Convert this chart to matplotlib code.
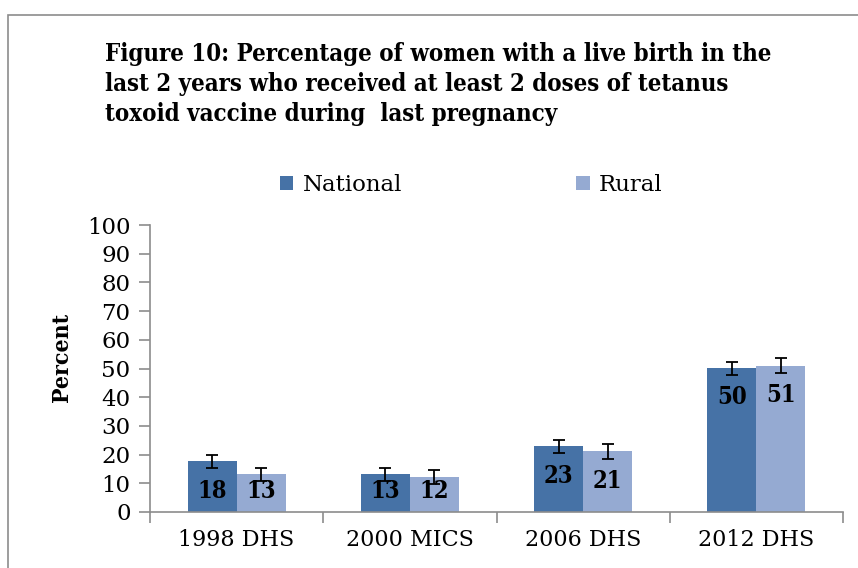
import matplotlib
matplotlib.use("Agg")
import matplotlib.pyplot as plt
import numpy as np
from matplotlib.patches import Rectangle, Patch

categories = ["1998 DHS", "2000 MICS", "2006 DHS", "2012 DHS"]
national = [17.6, 13.1, 22.9, 50.1]
rural = [13.1, 12.2, 21.1, 51.0]
national_labels = ["18", "13", "23", "50"]
rural_labels = ["13", "12", "21", "51"]
national_err = [2.3, 2.3, 2.3, 2.3]
rural_err = [2.2, 2.3, 2.5, 2.5]
title_lines = ["Figure 10: Percentage of women with a live birth in the",
               "last 2 years who received at least 2 doses of tetanus",
               "toxoid vaccine during  last pregnancy"]

c_nat = "#4672A6"
c_rur = "#95AAD2"
tick_font = "DejaVu Serif"

fig = plt.figure(figsize=(8.58, 5.68), dpi=100)
fig.patch.set_facecolor("white")
W, H = 858, 568

fig.patches.append(Rectangle((8 / W, -0.1), 1.2, (568 - 15) / H + 0.1,
                             transform=fig.transFigure, fill=False,
                             edgecolor="#8c8c8c", linewidth=1.2))

ax = fig.add_axes([150 / W, 1 - 512 / H, (843 - 150) / W, (512 - 225) / H])
x = np.arange(len(categories))
bw = 0.283
ax.bar(x - bw / 2, national, bw, color=c_nat, zorder=2)
ax.bar(x + bw / 2, rural, bw, color=c_rur, zorder=2)
ax.errorbar(x - bw / 2, national, yerr=national_err, fmt="none", ecolor="black",
            elinewidth=1.3, capsize=4.5, capthick=1.3, zorder=3)
ax.errorbar(x + bw / 2, rural, yerr=rural_err, fmt="none", ecolor="black",
            elinewidth=1.3, capsize=4.5, capthick=1.3, zorder=3)

for xs, vals, labs in [(x - bw / 2, national, national_labels), (x + bw / 2, rural, rural_labels)]:
    for xi, v, lab in zip(xs, vals, labs):
        yc = max(v - 10.2, 7.4)
        ax.text(xi, yc, lab, ha="center", va="center", fontsize=17,
                fontweight="bold", family=tick_font, fontstretch="condensed",
                color="black", zorder=4)

ax.set_xlim(-0.5, 3.5)
ax.set_ylim(0, 100)
ax.set_yticks(range(0, 101, 10))
ax.set_yticklabels([str(v) for v in range(0, 101, 10)], family=tick_font, fontsize=16.5)
ax.set_xticks(x)
ax.set_xticklabels(categories, family=tick_font, fontsize=16)
ax.tick_params(axis="x", length=0, pad=12)
ax.set_xticks(np.arange(-0.5, 4.0, 1.0), minor=True)
ax.tick_params(axis="x", which="minor", length=8, color="#8c8c8c", width=1.2)
ax.tick_params(axis="y", length=8, color="#8c8c8c", width=1.2, pad=6)
for s in ["top", "right"]:
    ax.spines[s].set_visible(False)
for s in ["left", "bottom"]:
    ax.spines[s].set_color("#8c8c8c")
    ax.spines[s].set_linewidth(1.2)

fig.text(62 / W, 1 - 357 / H, "Percent", rotation=90, ha="center", va="center",
         fontsize=16.5, fontweight="bold", family="DejaVu Serif", fontstretch="condensed")

baselines = [61, 91, 121]
for line, b in zip(title_lines, baselines):
    fig.text(105 / W, 1 - b / H, line, ha="left", va="baseline",
             fontsize=17.2, fontweight="bold", family="DejaVu Serif", fontstretch="condensed")

handles = [Patch(facecolor=c_nat), Patch(facecolor=c_rur)]
fig.legend(handles, ["National", "Rural"], loc="center",
           bbox_to_anchor=(471 / W, 1 - 185 / H), ncol=2, frameon=False,
           prop={"family": tick_font, "size": 16.5}, handlelength=0.6,
           handleheight=0.6, handletextpad=0.4, columnspacing=7.6)

fig.savefig("out.png", dpi=100)
